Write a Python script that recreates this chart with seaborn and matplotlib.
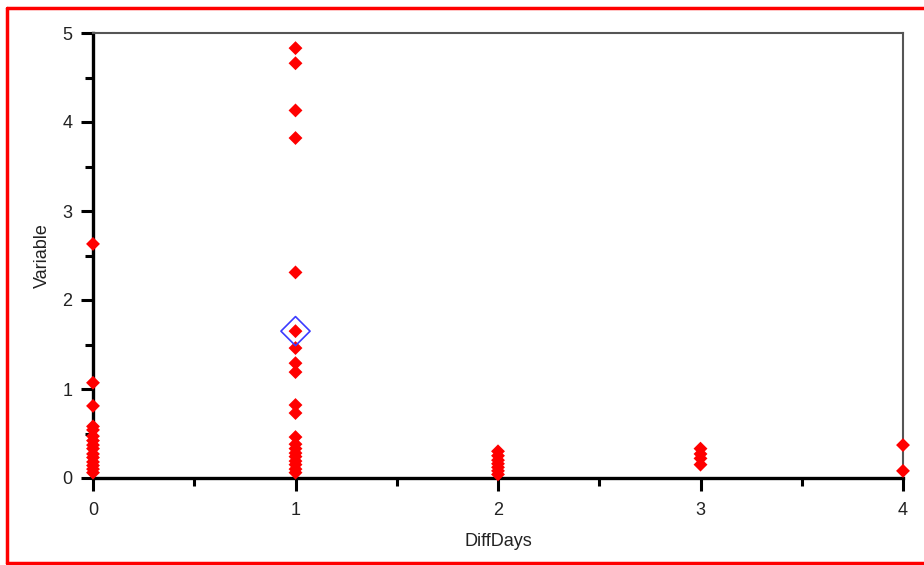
import matplotlib
matplotlib.use("Agg")
import matplotlib.pyplot as plt
from matplotlib.ticker import MultipleLocator
from matplotlib.lines import Line2D
import seaborn as sns
import pandas as pd

# ---- data ----
vals_day0 = [2.63, 1.07, 0.81, 0.58, 0.54, 0.47, 0.42, 0.37, 0.33, 0.27, 0.23, 0.18, 0.14, 0.10, 0.06]
vals_day1 = [4.83, 4.66, 4.13, 3.82, 2.31, 1.65, 1.46, 1.29, 1.19, 0.82, 0.73, 0.46,
             0.38, 0.33, 0.28, 0.24, 0.19, 0.15, 0.10, 0.06]
vals_day2 = [0.30, 0.25, 0.20, 0.16, 0.12, 0.08, 0.04]
vals_day3 = [0.33, 0.27, 0.22, 0.15]
vals_day4 = [0.37, 0.08]
highlight_x = [1]
highlight_y = [1.65]
x_ticks = [0, 1, 2, 3, 4]
y_ticks = [0, 1, 2, 3, 4, 5]

days = ([0] * len(vals_day0) + [1] * len(vals_day1) + [2] * len(vals_day2)
        + [3] * len(vals_day3) + [4] * len(vals_day4))
values = vals_day0 + vals_day1 + vals_day2 + vals_day3 + vals_day4
df = pd.DataFrame({"DiffDays": days, "Variable": values})
hl = pd.DataFrame({"DiffDays": highlight_x, "Variable": highlight_y})

sns.set_style("white")
plt.rcParams["font.family"] = ["Liberation Sans Narrow", "Liberation Sans", "DejaVu Sans"]

fig = plt.figure(figsize=(9.24, 5.65), dpi=100)
ax = fig.add_axes([93 / 924, 87 / 565, 810 / 924, 445 / 565])

sns.scatterplot(data=df, x="DiffDays", y="Variable", ax=ax, marker="D",
                color="#ff0000", edgecolor="none", s=50, clip_on=False, zorder=3)
sns.scatterplot(data=hl, x="DiffDays", y="Variable", ax=ax, marker="D",
                facecolor="none", edgecolor="#3b3bff", linewidth=1.2, s=220,
                clip_on=False, zorder=4)

ax.set_xlim(0, 4)
ax.set_ylim(0, 5)
ax.set_xticks(x_ticks)
ax.set_yticks(y_ticks)
ax.xaxis.set_minor_locator(MultipleLocator(0.5))
ax.yaxis.set_minor_locator(MultipleLocator(0.5))
ax.tick_params(axis="both", which="major", direction="out", length=9, width=2.2,
               color="black", labelsize=13, labelcolor="#222222", pad=6,
               bottom=True, left=True)
ax.tick_params(axis="x", which="major", pad=8)
ax.tick_params(axis="both", which="minor", direction="out", length=5.5, width=2.2,
               color="black", bottom=True, left=True)

for side in ["left", "bottom"]:
    ax.spines[side].set_color("black")
    ax.spines[side].set_linewidth(2.4)
for side in ["top", "right"]:
    ax.spines[side].set_color("#555555")
    ax.spines[side].set_linewidth(1.5)

ax.set_xlabel("DiffDays", fontsize=13, color="#222222", labelpad=10)
ax.set_ylabel("Variable", fontsize=13, color="#222222", labelpad=8)

# red frame around the figure (left, top, bottom edges visible)
W, H = 924, 565
for (x0, y0, x1, y1) in [(6.5, 8, 6.5, 563), (6.5, 8, 924, 8), (6.5, 563, 924, 563)]:
    fig.add_artist(Line2D([x0 / W, x1 / W], [1 - y0 / H, 1 - y1 / H],
                          transform=fig.transFigure, color="#ff0000", linewidth=2.5))

fig.savefig("out.png", dpi=100)
